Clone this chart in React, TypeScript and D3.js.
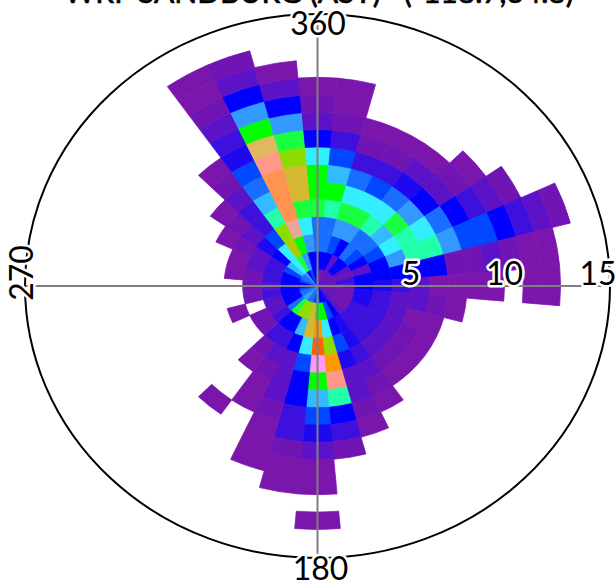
import React from "react";
import * as d3 from "d3";

const WIDTH = 616;
const HEIGHT = 584;

// colour levels, low to high
const levelColors = [
  "#7b16ad", "#7114b4", "#5c12c6", "#3d10dd", "#1e08f0", "#0000ff", "#0048ff", "#1a6eff",
  "#3399ff", "#33bbff", "#33eeff", "#22ffaa", "#19ff40", "#00ff00", "#8cdc00", "#b4c800",
  "#d4b830", "#e0b860", "#e8a898", "#ff9450", "#ff9888", "#ff99ff", "#ff9900", "#ff6000",
];

// each list: colour level per 1 m/s speed bin, from the centre out; null = empty bin
const dir0 = [5, 5, 7, 7, 12, 13, 13, 10, 5, 2, 1, 0];
const dir10 = [1, 5, 7, 7, 11, 13, 9, 6, 3, 1, 0, 0];
const dir20 = [1, 5, 6, 8, 12, 10, 7, 3, 1, 0];
const dir30 = [1, 2, 5, 8, 12, 10, 6, 3, 1, 0];
const dir40 = [2, 5, 7, 7, 11, 10, 7, 4, 2, 0];
const dir50 = [2, 5, 6, 7, 9, 12, 8, 5, 2, 1, 0];
const dir60 = [1, 2, 5, 6, 10, 11, 10, 7, 5, 3, 2, 1];
const dir70 = [2, 1, 2, 5, 8, 11, 11, 8, 6, 6, 5, 3, 2, 1];
const dir80 = [1, 3, 5, 5, 5, 5, 5, 1, 1, 2, 1, 0, 0];
const dir90 = [1, 2, 5, 4, 3, 2, 0, 0, 0, 0, null, 0, 0];
const dir100 = [1, 1, 4, 3, 2, 2, 1, 0];
const dir110 = [2, 1, 4, 3, 2, 0, 0];
const dir120 = [1, 1, 3, 3, 2, 1, 0];
const dir130 = [2, 1, 3, 3, 2, 1, 0];
const dir140 = [2, 2, 3, 3, 2, 1, 0];
const dir150 = [4, 5, 4, 4, 3, 2, 1, 0];
const dir160 = [5, 6, 5, 6, 4, 2, 2, 1, 0];
const dir170 = [5, 13, 10, 14, 22, 20, 11, 5, 3, 1];
const dir180 = [7, 13, 22, 23, 21, 13, 9, 6, 4, 2, 0, 0, null, 0];
const dir190 = [6, 16, 16, 10, 6, 5, 5, 3, 3, 1, 0, 0];
const dir200 = [7, 14, 9, 5, 2, 2, 2, 1, 0, 0, 0];
const dir210 = [7, 14, 5, 3, 2, 1, 0, 0];
const dir220 = [8, 12, 5, 3, 1, 0, null, null, 0];
const dir230 = [8, 7, 3, 1];
const dir240 = [7, 5, 2, 1];
const dir250 = [7, 5, 2, null, 0];
const dir260 = [6, 5, 3, 1];
const dir270 = [5, 5, 2, 1];
const dir280 = [5, 5, 3, 1, 0];
const dir290 = [6, 5, 3, 2, 0];
const dir300 = [7, 6, 3, 2, 1, 0];
const dir310 = [7, 9, 5, 4, 2, 1, 0];
const dir320 = [8, 10, 10, 6, 3, 3, 2, 1, 0];
const dir330 = [5, 12, 15, 14, 11, 9, 7, 6, 4, 3, 2, 1, 0, 0];
const dir340 = [6, 8, 13, 18, 19, 19, 19, 20, 17, 13, 8, 5, 2, 1];
const dir350 = [5, 5, 8, 10, 12, 16, 16, 14, 12, 8, 5, 2, 0];

const sectors = [
  dir0, dir10, dir20, dir30, dir40, dir50, dir60, dir70, dir80, dir90, dir100, dir110,
  dir120, dir130, dir140, dir150, dir160, dir170, dir180, dir190, dir200, dir210, dir220, dir230,
  dir240, dir250, dir260, dir270, dir280, dir290, dir300, dir310, dir320, dir330, dir340, dir350,
];

const speedTicks = [5, 10, 15];
const title = "WRF SANDBURG (ASY)   (-118.7,34.8)";

const cx = 317.5;
const cy = 286;
const outerRx = 292.5;
const outerRy = 272;
const yScale = outerRy / outerRx;

const r = d3.scaleLinear().domain([0, 15]).range([0, 280.5]);
const colorOf = d3.scaleOrdinal<number, string>(levelColors.map((_, i) => i), levelColors);
const arc = d3.arc();
const rad = (deg: number) => (deg * Math.PI) / 180;

const font = "Lato, 'DejaVu Sans', sans-serif";
const labelStyle = {
  fontFamily: font,
  fontSize: 32,
  fill: "#000",
  stroke: "#fff",
  strokeWidth: 5,
  paintOrder: "stroke",
  strokeLinejoin: "round",
} as React.CSSProperties;

export default function App() {
  return (
    <svg
      width={WIDTH}
      height={HEIGHT}
      viewBox={`0 0 ${WIDTH} ${HEIGHT}`}
      style={{ position: "absolute", left: 0, top: 0, background: "#fff" }}
    >
      <text x={319} y={3} textAnchor="middle" fontFamily={font} fontSize={30} stroke="#000" strokeWidth={0.7} fill="#000" xmlSpace="preserve">
        {title}
      </text>
      <g transform={`translate(${cx},${cy}) scale(1,${yScale})`}>
        {sectors.map((bins, i) =>
          bins.map((level, k) =>
            level === null ? null : (
              <path
                key={`${i}-${k}`}
                d={
                  arc({
                    innerRadius: r(k),
                    outerRadius: r(k + 1),
                    startAngle: rad(i * 10 - 5),
                    endAngle: rad(i * 10 + 5),
                  }) as string
                }
                fill={colorOf(level)}
                stroke={colorOf(level)}
                strokeWidth={0.8}
              />
            ),
          ),
        )}
      </g>
      <line x1={cx - outerRx} x2={cx + outerRx} y1={cy} y2={cy} stroke="#808080" strokeWidth={2} />
      <line x1={cx} x2={cx} y1={cy - outerRy} y2={cy + outerRy} stroke="#808080" strokeWidth={2} />
      <ellipse cx={cx} cy={cy} rx={outerRx} ry={outerRy} fill="none" stroke="#000" strokeWidth={2} />
      <text x={318} y={34.5} textAnchor="middle" style={labelStyle}>360</text>
      <text x={320.5} y={580} textAnchor="middle" style={labelStyle}>180</text>
      <text transform="translate(33,273) rotate(-90)" textAnchor="middle" style={labelStyle}>270</text>
      {speedTicks.map((s) => (
        <text key={s} x={cx + r(s)} y={285} textAnchor="middle" style={labelStyle}>
          {s}
        </text>
      ))}
    </svg>
  );
}
